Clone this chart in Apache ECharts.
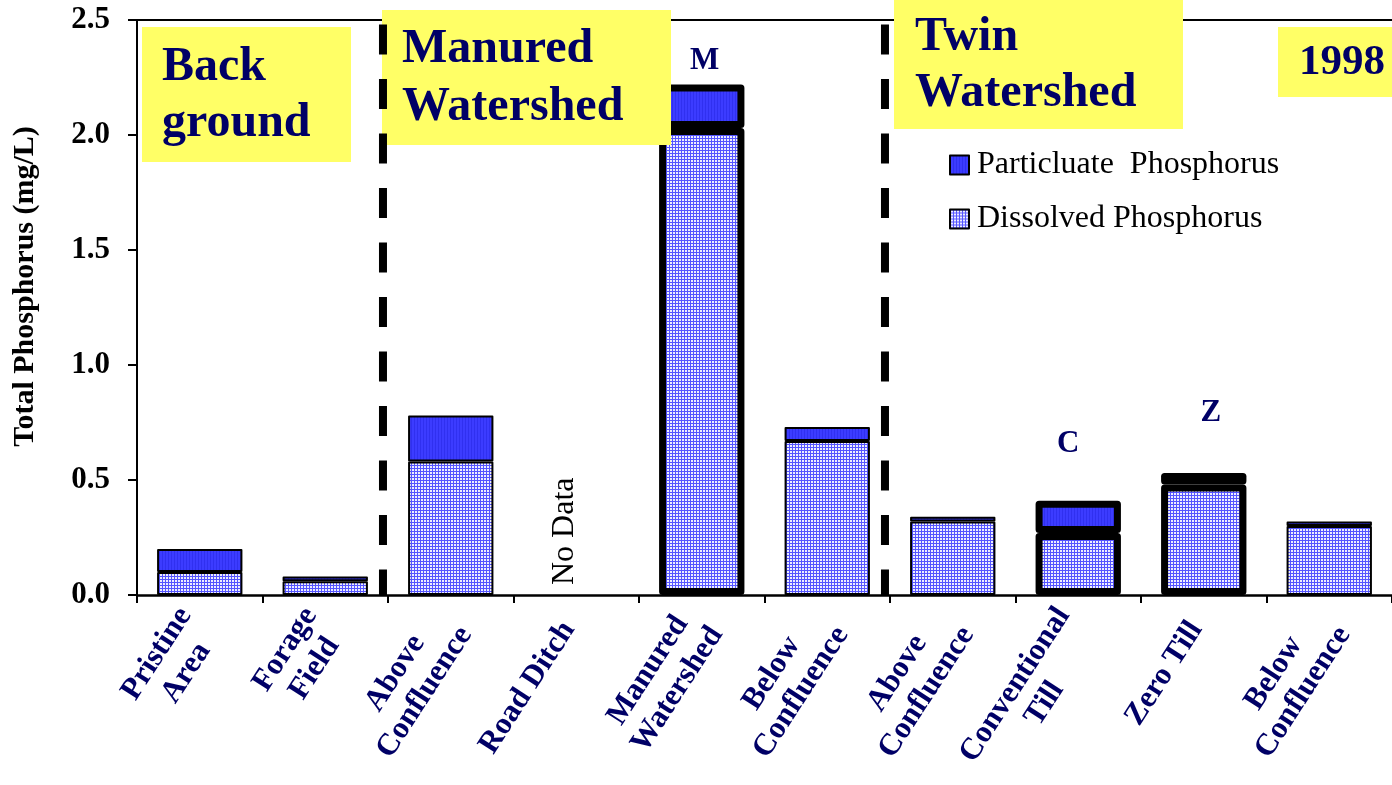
<!DOCTYPE html>
<html>
<head>
<meta charset="utf-8">
<script src="https://cdn.jsdelivr.net/npm/echarts@6/dist/echarts.min.js"></script>
<style>
  html, body { margin: 0; padding: 0; background: #ffffff; }
  #chart { width: 1392px; height: 785px; }
</style>
</head>
<body>
<div id="chart"></div>
<script>
// Sampling sites, left to right
const categories = [
  'Pristine\nArea', 'Forage\nField', 'Above\nConfluence', 'Road Ditch',
  'Manured\nWatershed', 'Below\nConfluence', 'Above\nConfluence',
  'Conventional\nTill', 'Zero Till', 'Below\nConfluence'
];
// Phosphorus fractions, mg/L (Road Ditch not sampled)
const dissolved   = [0.10, 0.06, 0.58, null, 2.03, 0.67, 0.32, 0.27, 0.48, 0.30];
const particulate = [0.10, 0.02, 0.20, null, 0.19, 0.06, 0.02, 0.14, 0.05, 0.02];
// Letter codes written above selected sites
const siteMarks = ['', '', '', '', 'M', '', '', 'C', 'Z', ''];
// Sites drawn with a heavy outline
const heavySites = [4, 7, 8];
// Section breaks sit before these site indices
const sectionBreaks = [2, 6];
const yTicks = [0, 0.5, 1.0, 1.5, 2.0, 2.5];
const legendNames = ['Particluate  Phosphorus', 'Dissolved Phosphorus'];

const SERIF = "'Liberation Serif', 'Times New Roman', serif";
const NAVY = '#000066';
const YELLOW = '#ffff66';

function makeTile(draw) {
  const c = document.createElement('canvas');
  c.width = 3; c.height = 3;
  const g = c.getContext('2d');
  draw(g);
  return c;
}
// fine blue grid on pale lavender
const gridTile = makeTile(g => {
  g.fillStyle = '#eeeeff'; g.fillRect(0, 0, 3, 3);
  g.fillStyle = '#5555ff'; g.fillRect(0, 0, 3, 1); g.fillRect(0, 0, 1, 3);
});
// solid blue with faint vertical striping
const solidTile = makeTile(g => {
  g.fillStyle = '#3c3cff'; g.fillRect(0, 0, 3, 3);
  g.fillStyle = '#3030f0'; g.fillRect(0, 0, 1, 3);
});
const dissolvedFill = { image: gridTile, repeat: 'repeat' };
const particulateFill = { image: solidTile, repeat: 'repeat' };

const markPlacement = {
  4: { distance: 8, dx: 3 },
  7: { distance: 41, dx: -10 },
  8: { distance: 45, dx: 7 }
};

function barData(values, withMarks) {
  return values.map((v, i) => {
    const item = { value: v == null ? '-' : v };
    if (heavySites.includes(i)) item.itemStyle = { borderWidth: 7 };
    if (withMarks && siteMarks[i]) {
      const p = markPlacement[i] || { distance: 10, dx: 0 };
      item.label = {
        show: true, position: 'top', formatter: siteMarks[i],
        distance: p.distance, offset: [p.dx, 0],
        fontFamily: SERIF, fontWeight: 'bold', fontSize: 31, color: NAVY
      };
    }
    return item;
  });
}

const dividerSeries = sectionBreaks.map(b => ({
  type: 'line', xAxisIndex: 1, yAxisIndex: 0, silent: true, z: 20,
  symbol: 'none', animation: false,
  lineStyle: { color: '#000', width: 8, type: [30, 24.5], cap: 'butt' },
  data: [[b - 0.04, 2.48], [b - 0.04, 0]]
}));

function boxText(id, x, y, text, lh) {
  return {
    id: id, type: 'text', left: x, top: y, z: 11,
    style: { text: text, fill: NAVY, font: "bold 48px " + SERIF, lineHeight: lh }
  };
}

const labelFont = { fontFamily: SERIF, fontWeight: 'bold', fontSize: 31, color: NAVY, lineHeight: 35 };

const chart = echarts.init(document.getElementById('chart'), null, { renderer: 'canvas' });
chart.setOption({
  animation: false,
  backgroundColor: '#ffffff',
  grid: { left: 137, right: 0, top: 20, bottom: 190, containLabel: false, outerBoundsMode: 'none' },
  legend: {
    data: legendNames, orient: 'vertical', left: 944, top: 143,
    itemWidth: 19, itemHeight: 19, itemGap: 20, icon: 'rect',
    itemStyle: { borderColor: '#000', borderWidth: 2 },
    textStyle: { fontFamily: SERIF, fontSize: 32, color: '#000', lineHeight: 34, padding: [0, 0, 0, 3] }
  },
  xAxis: [{
    type: 'category', data: categories, position: 'bottom',
    axisLine: { lineStyle: { color: '#000', width: 2.5 } },
    axisTick: { show: true, inside: false, length: 8, lineStyle: { color: '#000', width: 2 } },
    axisLabel: {
      interval: 0, rotate: 57, margin: 25,
      formatter: v => v.indexOf('\n') < 0
        ? '{s|' + v + '}'
        : v.split('\n').map(l => '{c|' + l + '}').join('\n'),
      rich: {
        c: Object.assign({ align: 'center' }, labelFont),
        s: Object.assign({ align: 'center', padding: [0, 8, 8, 0] }, labelFont)
      }
    },
    splitLine: { show: false }
  }, {
    type: 'value', position: 'top', min: 0, max: categories.length,
    axisLine: { show: true, onZero: false, lineStyle: { color: '#000', width: 2 } },
    axisTick: { show: false }, axisLabel: { show: false }, splitLine: { show: false }
  }],
  yAxis: {
    type: 'value', min: yTicks[0], max: yTicks[yTicks.length - 1], interval: yTicks[1] - yTicks[0],
    name: 'Total Phosphorus (mg/L)', nameLocation: 'middle', nameRotate: 90, nameGap: 97,
    nameTextStyle: { fontFamily: SERIF, fontWeight: 'bold', fontSize: 30, color: '#000', padding: [0, 0, 0, 42] },
    axisLine: { show: true, lineStyle: { color: '#000', width: 2 } },
    axisTick: { show: true, inside: false, length: 9, lineStyle: { color: '#000', width: 2 } },
    axisLabel: { margin: 27, formatter: v => v.toFixed(1), fontFamily: SERIF, fontWeight: 'bold', fontSize: 31, color: '#000' },
    splitLine: { show: false }
  },
  series: [{
    name: legendNames[1], type: 'bar', stack: 'tp', barWidth: '68%',
    itemStyle: { color: dissolvedFill, borderColor: '#000', borderWidth: 2, borderJoin: 'round' },
    data: barData(dissolved, false)
  }, {
    name: legendNames[0], type: 'bar', stack: 'tp', barWidth: '68%',
    itemStyle: { color: particulateFill, borderColor: '#000', borderWidth: 2, borderJoin: 'round' },
    data: barData(particulate, true)
  }].concat(dividerSeries),
  graphic: [
    { id: 'boxBack', type: 'rect', shape: { x: 142, y: 27, width: 209, height: 135 }, style: { fill: YELLOW }, z: 10 },
    boxText('txtBack', 162, 40, 'Back\nground', 56),
    { id: 'boxManured', type: 'rect', shape: { x: 382, y: 10, width: 289, height: 135 }, style: { fill: YELLOW }, z: 10 },
    boxText('txtManured', 402, 21, 'Manured\nWatershed', 58),
    { id: 'boxTwin', type: 'rect', shape: { x: 894, y: 0, width: 289, height: 129 }, style: { fill: YELLOW }, z: 10 },
    boxText('txtTwin', 915, 10, 'Twin\nWatershed', 56),
    { id: 'boxYear', type: 'rect', shape: { x: 1278, y: 27, width: 114, height: 70 }, style: { fill: YELLOW }, z: 10 },
    { id: 'txtYear', type: 'text', left: 1299, top: 41, z: 11, style: { text: '1998', fill: NAVY, font: "bold 43px " + SERIF } }
  ]
});

// "No Data" note standing in the empty Road Ditch slot
const noDataIdx = dissolved.findIndex(v => v == null);
const at = chart.convertToPixel({ xAxisIndex: 0, yAxisIndex: 0 }, [noDataIdx, 0]);
chart.setOption({
  graphic: [{
    id: 'noData', type: 'text', z: 11, x: at[0] - 12, y: at[1] - 10, rotation: Math.PI / 2,
    style: { text: 'No Data', fill: '#000', font: "32px " + SERIF, align: 'left', verticalAlign: 'middle' }
  }]
});
</script>
</body>
</html>
